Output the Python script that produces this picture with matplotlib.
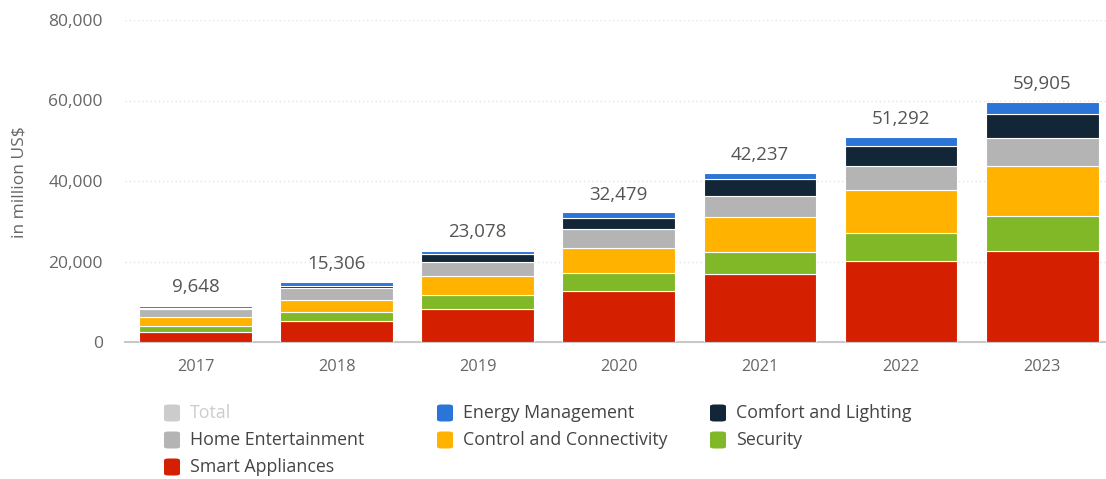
import matplotlib
matplotlib.use("Agg")
import matplotlib.pyplot as plt
from matplotlib.patches import FancyBboxPatch
import numpy as np

plt.rcParams['font.family'] = ['Open Sans', 'DejaVu Sans']

years = ["2017", "2018", "2019", "2020", "2021", "2022", "2023"]
totals = [9648, 15306, 23078, 32479, 42237, 51292, 59905]

smart_appliances = [2600, 5300, 8300, 12700, 16900, 20100, 22600]
security = [1350, 2250, 3400, 4400, 5400, 7050, 8700]
control_connectivity = [2300, 3000, 4800, 6350, 8850, 10500, 12350]
home_entertainment = [2000, 2950, 3500, 4650, 5150, 6200, 7100]
comfort_lighting = [250, 450, 1900, 2650, 4150, 4950, 5900]
energy_management = [400, 1000, 750, 1500, 1500, 2050, 3000]

series = [
    ("Smart Appliances", smart_appliances, "#d42000"),
    ("Security", security, "#80b828"),
    ("Control and Connectivity", control_connectivity, "#ffb300"),
    ("Home Entertainment", home_entertainment, "#b4b4b4"),
    ("Comfort and Lighting", comfort_lighting, "#132638"),
    ("Energy Management", energy_management, "#2b74d8"),
]

W, H = 1106, 479
fig = plt.figure(figsize=(W / 100, H / 100), dpi=100)
ax = fig.add_axes([125 / W, 1 - 342 / H, (W - 125) / W, (342 - 20) / H])

x = np.arange(len(years))
bottom = np.zeros(len(years))
for name, vals, col in series:
    v = np.array(vals, dtype=float)
    ax.bar(x, v, bottom=bottom, width=0.8, color=col, edgecolor="white",
           linewidth=0.8, zorder=3)
    bottom += v

for xi, t in zip(x, totals):
    ax.annotate(f"{t:,}", (xi, t), xytext=(0, 12), textcoords="offset points",
                ha="center", va="center", fontsize=13.5, color="#555555", zorder=4)

ax.set_ylim(0, 80000)
ax.set_xlim(-0.5, -0.5 + (W - 125) / 141.1)
ax.set_yticks([0, 20000, 40000, 60000, 80000])
ax.set_yticklabels([f"{v:,}" for v in [0, 20000, 40000, 60000, 80000]])
ax.set_xticks(x)
ax.set_xticklabels(years)
ax.tick_params(axis="y", length=0, pad=16, labelsize=12.5, labelcolor="#666666")
ax.tick_params(axis="x", length=0, pad=12.5, labelsize=11.8, labelcolor="#666666")

ax.grid(axis="y", color="#e4e4e4", linestyle=(0, (1, 2)), linewidth=1, zorder=0)
ax.set_axisbelow(True)
for s in ["top", "right", "left"]:
    ax.spines[s].set_visible(False)
ax.spines["bottom"].set_color("#c8c8c8")
ax.spines["bottom"].set_linewidth(1.5)

fig.text(20 / W, 1 - 182 / H, "in million US$", rotation=90, ha="center",
         va="center", fontsize=12.5, color="#666666")

# legend
legend_items = [
    ("Total", "#cccccc", "#cccccc", 0, 0),
    ("Energy Management", "#2b74d8", "#444444", 1, 0),
    ("Comfort and Lighting", "#132638", "#444444", 2, 0),
    ("Home Entertainment", "#b4b4b4", "#444444", 0, 1),
    ("Control and Connectivity", "#ffb300", "#444444", 1, 1),
    ("Security", "#80b828", "#444444", 2, 1),
    ("Smart Appliances", "#d42000", "#444444", 0, 2),
]
col_x = [164, 437, 710]
row_y = [413, 440, 467]
mw, mh = 16, 17
for label, mc, tc, c, r in legend_items:
    cx, cy = col_x[c], row_y[r]
    p = FancyBboxPatch((cx / W, 1 - (cy + mh / 2) / H), mw / W, mh / H,
                       boxstyle="round,pad=0,rounding_size=0.004",
                       transform=fig.transFigure, facecolor=mc, edgecolor="none")
    fig.patches.append(p)
    fig.text((cx + mw + 10) / W, 1 - cy / H, label, ha="left", va="center",
             fontsize=12.8, color=tc)

fig.savefig("out.png", dpi=100, facecolor="white")
